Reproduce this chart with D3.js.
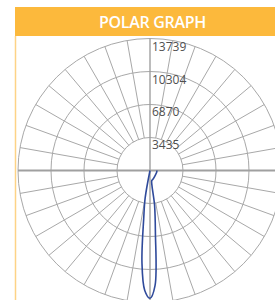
<!DOCTYPE html>
<html><head><meta charset="utf-8">
<script src="https://cdn.jsdelivr.net/npm/d3@7"></script>
<style>html,body{margin:0;padding:0;background:#fff;overflow:hidden}</style>
</head><body>
<svg id="c" width="275" height="300"></svg>
<script>
const title = "POLAR GRAPH";
const ringValues = [3435, 6870, 10304, 13739];
const ringLabels = ["3435", "6870", "10304", "13739"];
const spokeStep = 10;
// angle in degrees from nadir (down), positive to the right
const angles  = [-12, -10, -7.5, -5, -2.5, 0, 2.5, 5, 7.5, 10, 15, 20, 45, 75, 90];
const candela = [0, 2900, 5000, 9600, 12500, 13300, 12000, 6450, 3650, 1050, 1000, 950, 750, 720, 720];

const W = 275, H = 300, cx = 150, cy = 170.5, R = 132;
const svg = d3.select("#c");
const r = d3.scaleLinear().domain([0, 13739]).range([0, R]);
const rad = d => d * Math.PI / 180;

// title bar
svg.append("rect").attr("x", 15).attr("y", 7).attr("width", 280).attr("height", 29).attr("fill", "#FCB93C");
svg.append("text").attr("x", 152.5).attr("y", 28.3).attr("text-anchor", "middle")
  .attr("font-family", "Open Sans").attr("font-weight", 600).attr("font-size", 16)
  .attr("letter-spacing", -0.3).attr("fill", "#fff").text(title);
svg.append("line").attr("x1", 15.5).attr("x2", 15.5).attr("y1", 36).attr("y2", H)
  .attr("stroke", "#FDD386").attr("stroke-width", 1.5);

const g = svg.append("g");
const grid = "#a8a8a8";
// rings
g.selectAll("circle.ring").data(ringValues).join("circle")
  .attr("cx", cx).attr("cy", cy).attr("r", d => r(d))
  .attr("fill", "none").attr("stroke", grid).attr("stroke-width", 1);
// spokes
const spokes = d3.range(0, 360, spokeStep).filter(a => a % 90 !== 0);
const r0 = r(ringValues[0]);
g.selectAll("line.spoke").data(spokes).join("line")
  .attr("x1", a => cx + r0 * Math.sin(rad(a))).attr("y1", a => cy + r0 * Math.cos(rad(a)))
  .attr("x2", a => cx + R * Math.sin(rad(a))).attr("y2", a => cy + R * Math.cos(rad(a)))
  .attr("stroke", grid).attr("stroke-width", 1);
// axes
g.append("line").attr("x1", cx - R).attr("x2", cx + R).attr("y1", cy).attr("y2", cy)
  .attr("stroke", "#a0a0a0").attr("stroke-width", 1.8);
g.append("line").attr("x1", cx).attr("x2", cx).attr("y1", cy - R).attr("y2", cy + R)
  .attr("stroke", "#a0a0a0").attr("stroke-width", 1.4);
// labels
g.selectAll("text.lbl").data(ringValues).join("text")
  .attr("x", cx + 2).attr("y", (d) => cy - r(d) + 12)
  .attr("font-family", "Open Sans").attr("font-size", 12).attr("fill", "#505050")
  .text((d, i) => ringLabels[i]);

// curve
const pts = angles.map((a, i) => [cx + r(candela[i]) * Math.sin(rad(a)), cy + r(candela[i]) * Math.cos(rad(a))]);
g.append("path").attr("d", d3.line().curve(d3.curveCatmullRom.alpha(0.5))(pts))
  .attr("fill", "none").attr("stroke", "#2F4A9B").attr("stroke-width", 1.6);
</script>
</body></html>
